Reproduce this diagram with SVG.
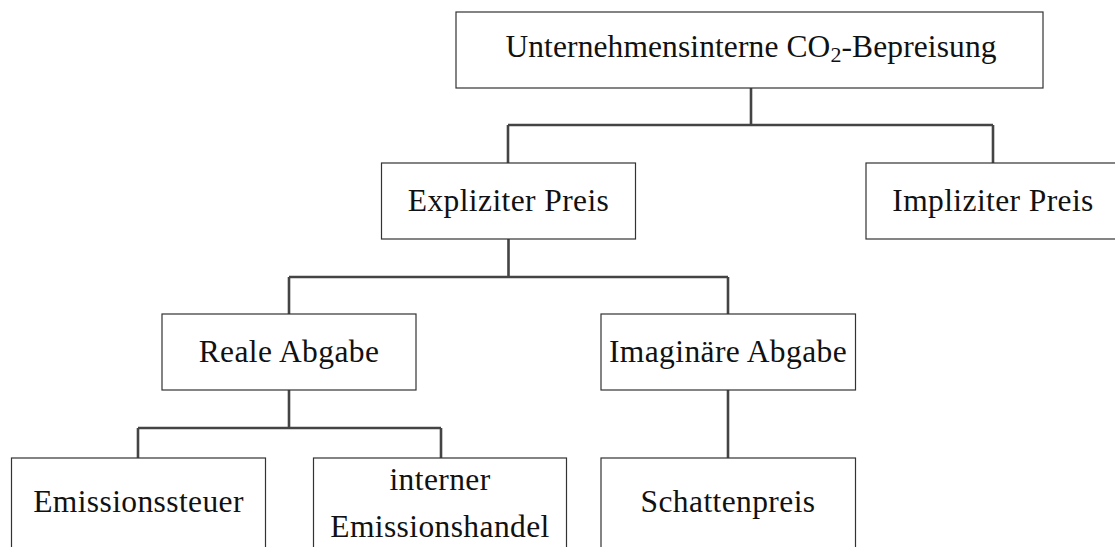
<svg xmlns="http://www.w3.org/2000/svg" width="1115" height="547" viewBox="0 0 1115 547">
  <style>
    .box { fill: #ffffff; stroke: #333333; stroke-width: 1.2; }
    .lbl { font-family: "Liberation Serif", "Times New Roman", serif; font-size: 31.5px; letter-spacing: 0.4px; fill: #111111; text-anchor: middle; }
    .edge { fill: none; stroke: #444444; stroke-width: 2.6; stroke-linecap: butt; }
  </style>
  <rect width="1115" height="547" fill="#ffffff"/>

  <!-- tree connectors -->
  <g id="connectors">
    <path class="edge" d="M751 88 V125 M508 125 H993 M508 125 V163 M993 125 V163"/>
    <path class="edge" d="M508.5 239 V277 M289 277 H728 M289 277 V314 M728 277 V314"/>
    <path class="edge" d="M289 390 V428 M138 428 H441 M138 428 V458 M441 428 V458"/>
    <path class="edge" d="M728 390 V458"/>
  </g>

  <g id="root">
    <rect class="box" x="456" y="12" width="587" height="76"/>
    <text class="lbl" x="751" y="57" style="letter-spacing:0.1px">Unternehmensinterne CO<tspan font-size="22" dy="5">2</tspan><tspan dy="-5">-Bepreisung</tspan></text>
  </g>

  <g id="explicit">
    <rect class="box" x="381.5" y="163" width="254" height="76"/>
    <text class="lbl" x="508.5" y="211">Expliziter Preis</text>
  </g>

  <g id="implicit">
    <rect class="box" x="866" y="163" width="254" height="76"/>
    <text class="lbl" x="993" y="211">Impliziter Preis</text>
  </g>

  <g id="real-levy">
    <rect class="box" x="162" y="314" width="254" height="76"/>
    <text class="lbl" x="289" y="362">Reale Abgabe</text>
  </g>

  <g id="imaginary-levy">
    <rect class="box" x="601" y="314" width="254.5" height="76"/>
    <text class="lbl" x="728" y="362">Imaginäre Abgabe</text>
  </g>

  <g id="emission-tax">
    <rect class="box" x="11.5" y="458" width="254" height="110"/>
    <text class="lbl" x="138.5" y="512">Emissionssteuer</text>
  </g>

  <g id="internal-trading">
    <rect class="box" x="313.5" y="458" width="253" height="110"/>
    <text class="lbl" x="440" y="490">interner</text>
    <text class="lbl" x="440" y="537">Emissionshandel</text>
  </g>

  <g id="shadow-price">
    <rect class="box" x="601" y="458" width="254.5" height="110"/>
    <text class="lbl" x="728" y="512">Schattenpreis</text>
  </g>
</svg>
